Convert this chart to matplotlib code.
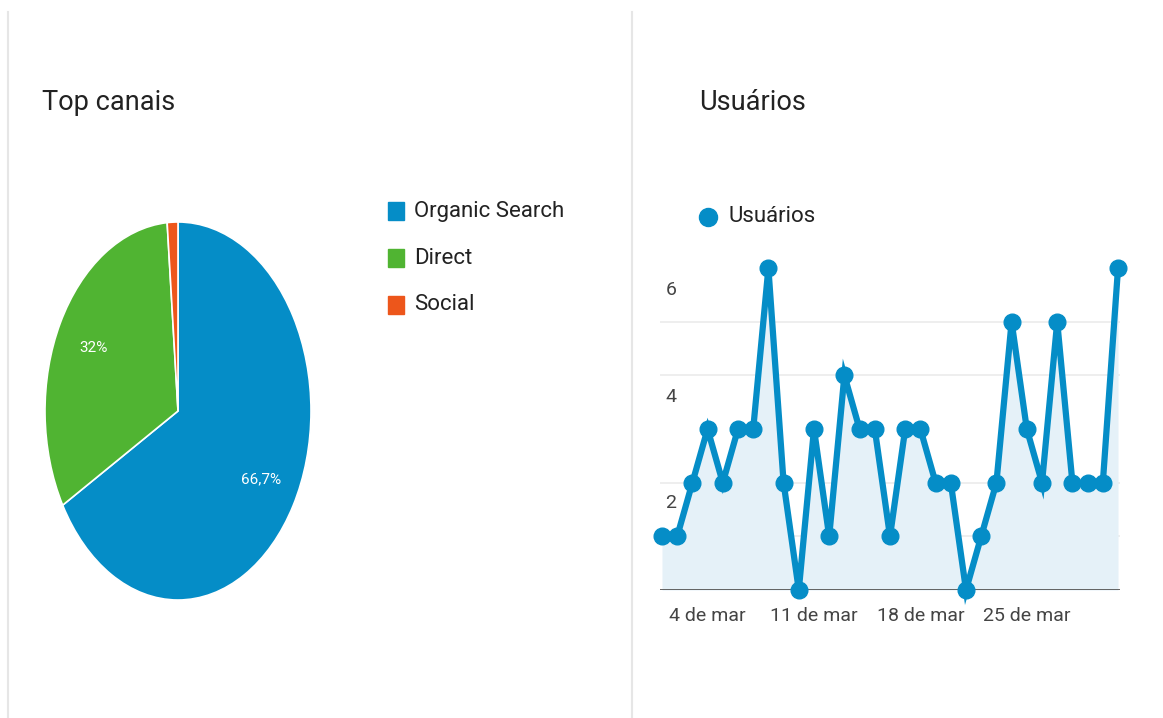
"""Google Analytics style dashboard: Top canais pie + Usuários daily line."""
import matplotlib
matplotlib.use("Agg")
import matplotlib.pyplot as plt
import numpy as np
from matplotlib.patches import Rectangle
from matplotlib.lines import Line2D

plt.rcParams["font.family"] = ["Roboto", "DejaVu Sans"]

# --- data -------------------------------------------------------------------
channels = ["Organic Search", "Direct", "Social"]
channel_share = [66.7, 32.0, 1.3]
channel_colors = ["#058DC7", "#50B432", "#ED561B"]

days = list(range(1, 32))  # 1..31 de mar
usuarios = [1, 1, 2, 3, 2, 3, 3, 6, 2, 0, 3, 1, 4, 3, 3, 1,
            3, 3, 2, 2, 0, 1, 2, 5, 3, 2, 5, 2, 2, 2, 6]
tick_days = [4, 11, 18, 25]
tick_labels = ["4 de mar", "11 de mar", "18 de mar", "25 de mar"]
grid_values = [1, 2, 4, 5]
ylabel_values = [1.62, 3.6, 5.6]
ylabel_texts = ["2", "4", "6"]

LINE = "#058DC7"
FILL = "#E5F1F8"
W, H = 1163, 718


def px(x0, y0, w, h):
    """Pixel box (top-left origin) -> figure fraction rect."""
    return [x0 / W, (H - y0 - h) / H, w / W, h / H]


fig = plt.figure(figsize=(W / 100, H / 100), dpi=100)

# panel dividers
for xp in (8, 632):
    fig.add_artist(Line2D([xp / W, xp / W], [0, (H - 12) / H],
                          color="#E6E6E6", lw=1.5))

# --- left panel: pie ----------------------------------------------------------
fig.text(42 / W, 1 - 103 / H, "Top canais", fontsize=19.5, color="#222222",
         va="center", ha="left")

ax_pie = fig.add_axes(px(45, 222, 266, 378))


def pct_fmt(p):
    if p < 5:
        return ""
    return f"{p:.1f}".replace(".", ",").replace(",0", "") + "%"


wedges, texts, autotexts = ax_pie.pie(
    channel_share, colors=channel_colors, startangle=90, counterclock=False,
    autopct=pct_fmt, pctdistance=0.72,
    wedgeprops=dict(edgecolor="white", linewidth=1.2),
    textprops=dict(color="white", fontsize=11),
)
ax_pie.set_aspect("auto")
ax_pie.set_xlim(-1, 1)
ax_pie.set_ylim(-1, 1)
ax_pie.axis("off")

# legend
for i, (name, col) in enumerate(zip(channels, channel_colors)):
    yc = 211 + i * 47
    fig.add_artist(Rectangle((388 / W, 1 - (yc + 9) / H), 16 / W, 18 / H,
                             transform=fig.transFigure, color=col))
    fig.text(414 / W, 1 - yc / H, name, fontsize=16, color="#222222",
             va="center", ha="left")

# --- right panel: line ----------------------------------------------------------
fig.text(699 / W, 1 - 103 / H, "Usuários", fontsize=19.5, color="#222222",
         va="center", ha="left")

ax = fig.add_axes(px(660, 250, 460, 340))
x = np.array(days)
y = np.array(usuarios)
ax.fill_between(x, 0, y, color=FILL, lw=0, zorder=1)
for g in grid_values:
    ax.axhline(g, color="#EBEBEB", lw=1.2, zorder=0)
ax.axhline(0, color="#555555", lw=2, zorder=2)
ax.plot(x, y, color=LINE, lw=4.5, marker="o", ms=12, zorder=3, clip_on=False,
        solid_joinstyle="miter")
ax.set_xlim(0.87, 31.13)
ax.set_ylim(0, 6.34)
for v, t in zip(ylabel_values, ylabel_texts):
    ax.text(1.6, v, t, fontsize=14, color="#444444", ha="center", va="center",
            zorder=0)
ax.set_xticks(tick_days)
ax.set_xticklabels(tick_labels, fontsize=14, color="#444444")
ax.tick_params(axis="x", length=0, pad=12)
ax.set_yticks([])
for s in ax.spines.values():
    s.set_visible(False)

# series legend
fig.add_artist(Line2D([708 / W], [1 - 217 / H], marker="o", ms=13,
                      color=LINE, lw=0))
fig.text(729 / W, 1 - 217 / H, "Usuários", fontsize=16, color="#222222",
         va="center", ha="left")

fig.savefig("out.png", dpi=100)
